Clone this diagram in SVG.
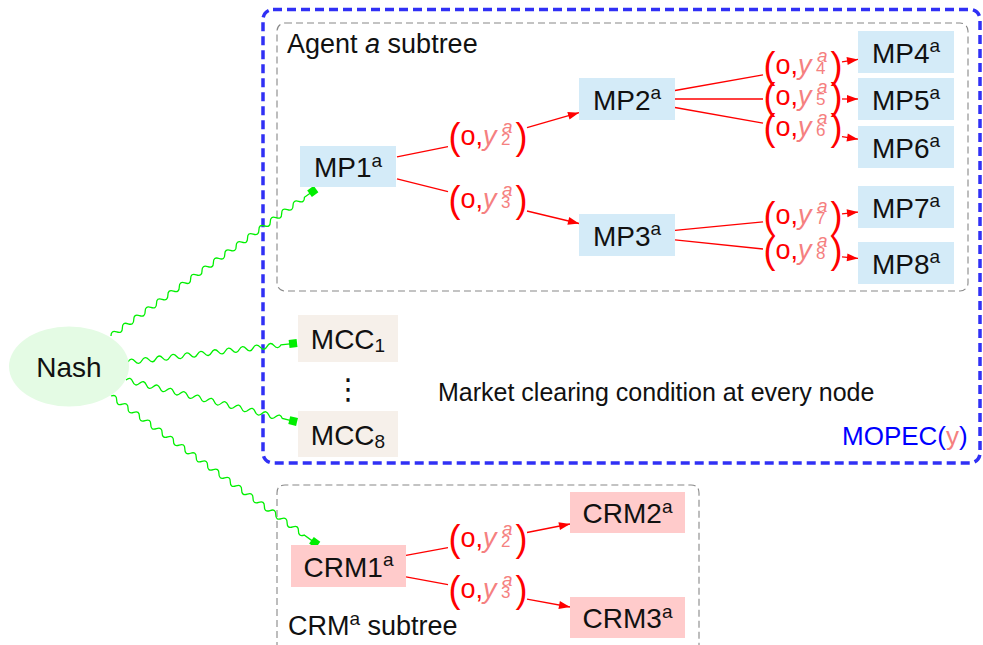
<svg xmlns="http://www.w3.org/2000/svg" width="983" height="645" viewBox="0 0 983 645">
<defs>
<style>
text { font-family: "Liberation Sans", Arial, sans-serif; fill: #111; }
.nl { font-size: 28px; text-anchor: middle; }
.sp { font-size: 19px; }
.mp { fill: #d4ebf8; }
.mcc { fill: #f6f0ea; }
.crm { fill: #ffcbcb; }
.frame { fill: none; stroke: #888; stroke-width: 1.1; stroke-dasharray: 7 4; }
.mopec { fill: none; stroke: #3030f5; stroke-width: 3.5; stroke-dasharray: 9 5; }
.edge { stroke: #f00; stroke-width: 1.3; fill: none; }
.arrow { marker-end: url(#ah); }
.snake { stroke: #00f000; stroke-width: 1.3; fill: none; }
.tipsq { fill: #00ee00; }
.par { font-size: 36px; fill: #f00; }
.lo { font-size: 27px; fill: #f00; }
.pk { fill: #f58080; font-style: italic; }
.sup { font-size: 19px; fill: #f58080; font-style: italic; }
.sub { font-size: 17px; fill: #f58080; }
.plain { font-size: 27px; }
</style>
<marker id="ah" viewBox="-12 -5 12 10" refX="0" refY="0" markerWidth="12" markerHeight="10" markerUnits="userSpaceOnUse" orient="auto">
  <path d="M-11,-4 L0,0 L-11,4 z" fill="#f00"/>
</marker>
<!-- edge label "(o, y_k^a)" without its subscript digit -->
<g id="oy">
  <text class="par" x="-38.5" y="10">(</text>
  <text class="lo" x="-26.5" y="6">o,<tspan class="pk">y</tspan></text>
  <text class="sup" x="15" y="-6">a</text>
  <text class="par" x="28.5" y="10">)</text>
</g>
</defs>

<rect width="983" height="645" fill="#fff"/>

<!-- frames -->
<g id="frames">
  <rect class="mopec" x="263" y="9.5" width="717" height="453.5" rx="10"/>
  <rect class="frame" x="277" y="23" width="691" height="268" rx="8"/>
  <path class="frame" d="M277,660 V493 Q277,485 285,485 H691 Q699,485 699,493 V660"/>
  <text class="plain" x="287" y="53">Agent <tspan font-style="italic">a</tspan> subtree</text>
  <text class="plain" x="288" y="635">CRM<tspan class="sp" dy="-10">a</tspan><tspan dy="10"> subtree</tspan></text>
  <text x="438" y="401" font-size="25">Market clearing condition at every node</text>
  <text x="842" y="445" font-size="26" style="fill:#0000ff">MOPEC(<tspan style="fill:#f58080">y</tspan>)</text>
</g>

<!-- connectors -->
<g id="connectors">
  <!-- Nash couplings -->
  <g transform="translate(111,336) rotate(-35.64)">
    <path class="snake" d="M0,0 q3.5,-5 7,0 t7,0 t7,0 t7,0 t7,0 t7,0 t7,0 t7,0 t7,0 t7,0 t7,0 t7,0 t7,0 t7,0 t7,0 t7,0 t7,0 t7,0 t7,0 t7,0 t7,0 t7,0 t7,0 t7,0 t7,0 t7,0 t7,0 t7,0 t7,0 t7,0 t7,0 t7,0 t7,0 t7,0 L245,0"/>
    <rect class="tipsq" x="244.3" y="-4" width="8" height="8"/>
  </g>
  <g transform="translate(128,362) rotate(-6.41)">
    <path class="snake" d="M0,0 q3.5,-5 7,0 t7,0 t7,0 t7,0 t7,0 t7,0 t7,0 t7,0 t7,0 t7,0 t7,0 t7,0 t7,0 t7,0 t7,0 t7,0 t7,0 t7,0 t7,0 t7,0 t7,0 t7,0 L163,0"/>
    <rect class="tipsq" x="162.1" y="-4" width="8" height="8"/>
  </g>
  <g transform="translate(126,380) rotate(13.8)">
    <path class="snake" d="M0,0 q3.5,-5 7,0 t7,0 t7,0 t7,0 t7,0 t7,0 t7,0 t7,0 t7,0 t7,0 t7,0 t7,0 t7,0 t7,0 t7,0 t7,0 t7,0 t7,0 t7,0 t7,0 t7,0 t7,0 t7,0 L169,0"/>
    <rect class="tipsq" x="168.1" y="-4" width="8" height="8"/>
  </g>
  <g transform="translate(111,396) rotate(35.75)">
    <path class="snake" d="M0,0 q3.5,-5 7,0 t7,0 t7,0 t7,0 t7,0 t7,0 t7,0 t7,0 t7,0 t7,0 t7,0 t7,0 t7,0 t7,0 t7,0 t7,0 t7,0 t7,0 t7,0 t7,0 t7,0 t7,0 t7,0 t7,0 t7,0 t7,0 t7,0 t7,0 t7,0 t7,0 t7,0 t7,0 t7,0 t7,0 L248,0"/>
    <rect class="tipsq" x="247" y="-4" width="8" height="8"/>
  </g>

  <!-- agent tree -->
  <line class="edge" x1="397" y1="156.8" x2="448" y2="146.7"/>
  <line class="edge arrow" x1="527" y1="127.6" x2="579" y2="112.7"/>
  <line class="edge" x1="397" y1="178.8" x2="448" y2="191.6"/>
  <line class="edge arrow" x1="527" y1="211" x2="579" y2="223.5"/>
  <line class="edge" x1="675" y1="90.5" x2="763" y2="74.9"/>
  <line class="edge arrow" x1="842" y1="61.8" x2="858" y2="59.4"/>
  <line class="edge" x1="675" y1="99" x2="763" y2="99"/>
  <line class="edge arrow" x1="842" y1="99" x2="858" y2="99"/>
  <line class="edge" x1="675" y1="107.5" x2="763" y2="123.1"/>
  <line class="edge arrow" x1="842" y1="136.6" x2="858" y2="139.2"/>
  <line class="edge" x1="675" y1="230.3" x2="763" y2="221.8"/>
  <line class="edge arrow" x1="842" y1="213.8" x2="858" y2="212.1"/>
  <line class="edge" x1="675" y1="239.9" x2="763" y2="249"/>
  <line class="edge arrow" x1="842" y1="256.9" x2="858" y2="258.4"/>

  <!-- CRM tree -->
  <line class="edge" x1="406" y1="555.4" x2="448" y2="547.7"/>
  <line class="edge arrow" x1="527" y1="532.5" x2="570" y2="524"/>
  <line class="edge" x1="406" y1="576.8" x2="448" y2="584.7"/>
  <line class="edge arrow" x1="527" y1="599.2" x2="570" y2="607"/>

  <!-- edge labels -->
  <g id="lab-2a" transform="translate(487,139)"><use href="#oy"/><text class="sub" x="14" y="6">2</text></g>
  <g id="lab-3a" transform="translate(487,201.5)"><use href="#oy"/><text class="sub" x="14" y="6">3</text></g>
  <g id="lab-4a" transform="translate(802,68)"><use href="#oy"/><text class="sub" x="14" y="6">4</text></g>
  <g id="lab-5a" transform="translate(802,99)"><use href="#oy"/><text class="sub" x="14" y="6">5</text></g>
  <g id="lab-6a" transform="translate(802,130)"><use href="#oy"/><text class="sub" x="14" y="6">6</text></g>
  <g id="lab-7a" transform="translate(802,218)"><use href="#oy"/><text class="sub" x="14" y="6">7</text></g>
  <g id="lab-8a" transform="translate(802,253)"><use href="#oy"/><text class="sub" x="14" y="6">8</text></g>
  <g id="lab-c2" transform="translate(487,540.5)"><use href="#oy"/><text class="sub" x="14" y="6">2</text></g>
  <g id="lab-c3" transform="translate(487,592)"><use href="#oy"/><text class="sub" x="14" y="6">3</text></g>
</g>

<!-- nodes -->
<g id="nash">
  <ellipse cx="69" cy="366.5" rx="60" ry="40" fill="#e4fbe4"/>
  <text class="nl" x="69" y="377">Nash</text>
</g>
<g id="mp1">
  <rect class="mp" x="300" y="146" width="96" height="41"/>
  <text class="nl" x="348" y="177">MP1<tspan class="sp" dy="-10.5">a</tspan></text>
</g>
<g id="mp2">
  <rect class="mp" x="579" y="78" width="96" height="42"/>
  <text class="nl" x="627" y="109.5">MP2<tspan class="sp" dy="-10.5">a</tspan></text>
</g>
<g id="mp3">
  <rect class="mp" x="579" y="214" width="96" height="42"/>
  <text class="nl" x="627" y="245.5">MP3<tspan class="sp" dy="-10.5">a</tspan></text>
</g>
<g id="mp4">
  <rect class="mp" x="858" y="31" width="96" height="42"/>
  <text class="nl" x="906" y="62.5">MP4<tspan class="sp" dy="-10.5">a</tspan></text>
</g>
<g id="mp5">
  <rect class="mp" x="858" y="78" width="96" height="42"/>
  <text class="nl" x="906" y="109.5">MP5<tspan class="sp" dy="-10.5">a</tspan></text>
</g>
<g id="mp6">
  <rect class="mp" x="858" y="126" width="96" height="42"/>
  <text class="nl" x="906" y="157.5">MP6<tspan class="sp" dy="-10.5">a</tspan></text>
</g>
<g id="mp7">
  <rect class="mp" x="858" y="186" width="96" height="42"/>
  <text class="nl" x="906" y="217.5">MP7<tspan class="sp" dy="-10.5">a</tspan></text>
</g>
<g id="mp8">
  <rect class="mp" x="858" y="242" width="96" height="42"/>
  <text class="nl" x="906" y="273.5">MP8<tspan class="sp" dy="-10.5">a</tspan></text>
</g>
<g id="mcc1">
  <rect class="mcc" x="298" y="315" width="100" height="47"/>
  <text class="nl" x="348" y="349">MCC<tspan class="sp" dy="3">1</tspan></text>
</g>
<g id="mcc-dots">
  <text x="348" y="399" font-size="29" text-anchor="middle" style="font-family:'DejaVu Sans', sans-serif">⋮</text>
</g>
<g id="mcc8">
  <rect class="mcc" x="298" y="411" width="100" height="46"/>
  <text class="nl" x="348" y="444.5">MCC<tspan class="sp" dy="3">8</tspan></text>
</g>
<g id="crm1">
  <rect class="crm" x="291" y="545" width="115" height="42"/>
  <text class="nl" x="348.5" y="576.5">CRM1<tspan class="sp" dy="-10.5">a</tspan></text>
</g>
<g id="crm2">
  <rect class="crm" x="570" y="492" width="115" height="41"/>
  <text class="nl" x="627.5" y="523">CRM2<tspan class="sp" dy="-10.5">a</tspan></text>
</g>
<g id="crm3">
  <rect class="crm" x="570" y="597" width="115" height="41"/>
  <text class="nl" x="627.5" y="628">CRM3<tspan class="sp" dy="-10.5">a</tspan></text>
</g>
</svg>
